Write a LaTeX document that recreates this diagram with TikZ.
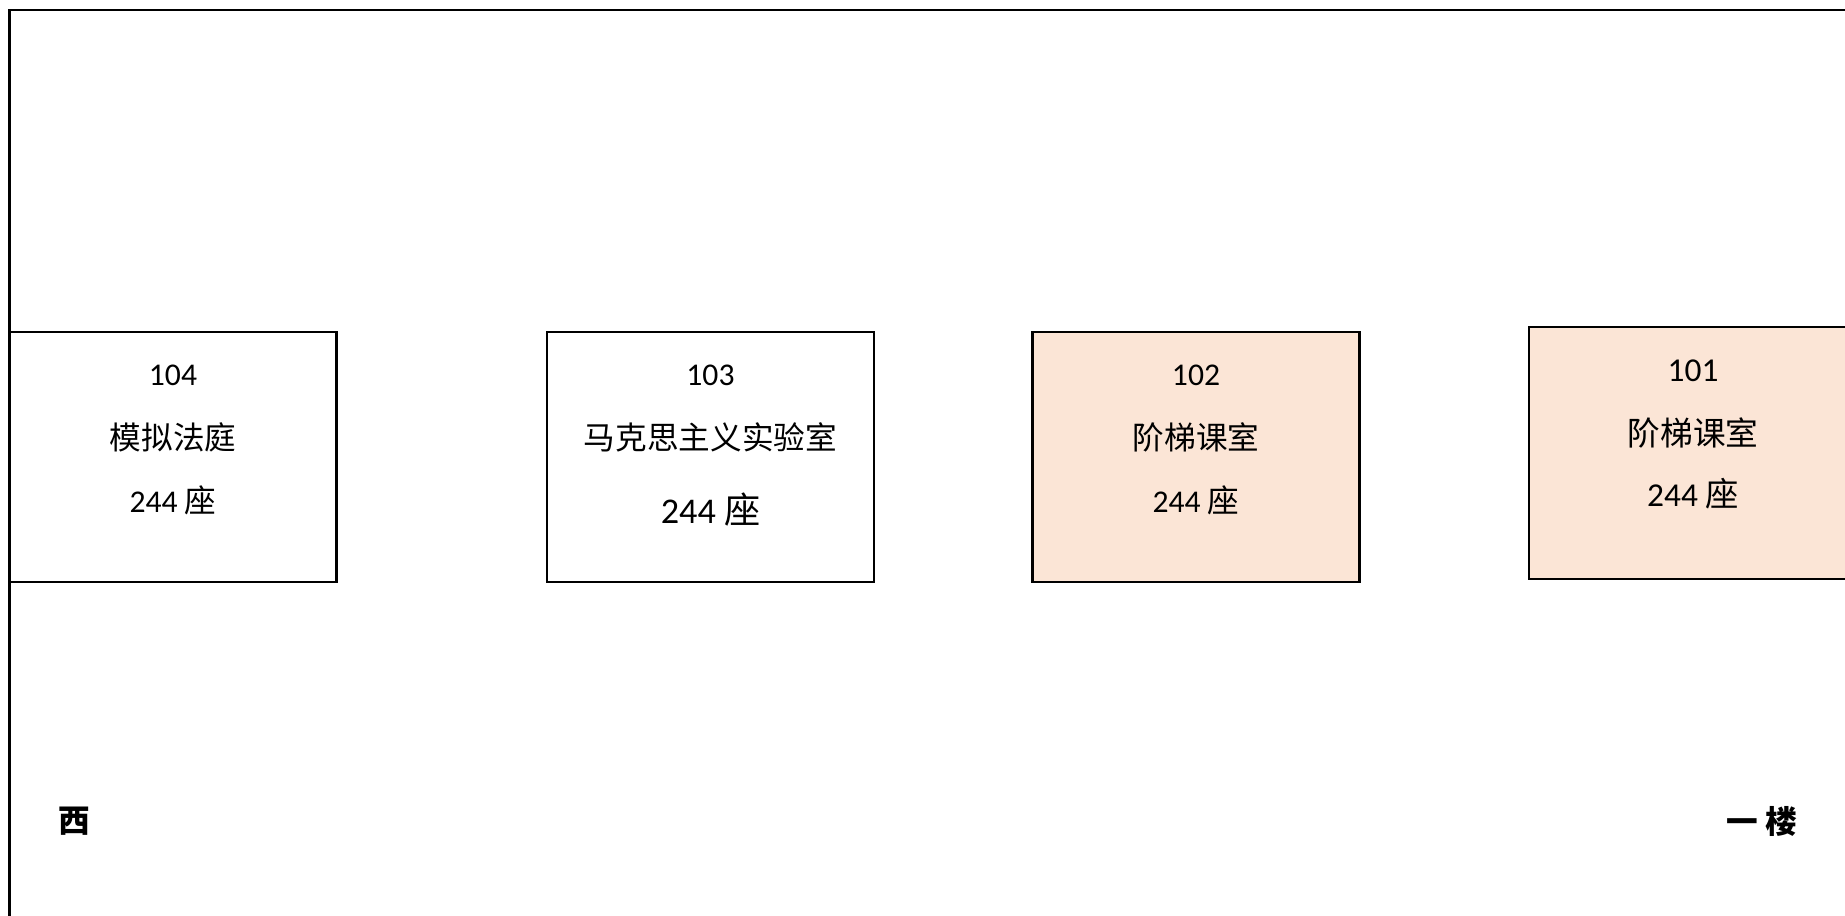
\documentclass[tikz,border=0pt]{standalone}
\usepackage{fontspec}
\setmainfont{Carlito}
\newfontfamily\cjk{Noto Sans CJK SC}
\usetikzlibrary{positioning}

\newcommand{\seats}{244 {\cjk 座}}

\definecolor{hallpeach}{HTML}{FBE5D6}
\tikzset{
  room/.style={draw=black,line width=0.6pt,minimum width=3.27cm,minimum height=2.505cm,inner sep=0pt},
  hall/.style={room,fill=hallpeach},
  label/.style={inner sep=0pt,font=\fontsize{9}{11}\selectfont}
}

\begin{document}
\begin{tikzpicture}
    \useasboundingbox (0,0) rectangle (18.45,9.15);
    \fill[white] (0,0) rectangle (18.45,9.15);
    % floor outline, runs off the page on the right and at the bottom
    \draw[line width=0.6pt] (19,9.05) -- (0.095,9.05) -- (0.095,-1);

    \node[room] (R104) at (1.73,4.58) {};
    \node[room] (R103) at (7.105,4.58) {};
    \node[hall] (R102) at (11.96,4.58) {};
    \node[hall,minimum height=2.52cm] (R101) at (16.925,4.62) {};

    \node[label] (n104) at (1.73,5.40) {104};
    \node[label] (t104) at (1.73,4.78) {\cjk 模拟法庭};
    \node[label] (s104) at (1.73,4.15) {\seats};

    \node[label] (n103) at (7.105,5.40) {103};
    \node[label] (t103) at (7.105,4.78) {\cjk 马克思主义实验室};
    \node[label,font=\fontsize{10.3}{12}\selectfont] (s103) at (7.105,4.05) {\seats};

    \node[label] (n102) at (11.96,5.40) {102};
    \node[label] (t102) at (11.96,4.78) {\cjk 阶梯课室};
    \node[label] (s102) at (11.96,4.15) {\seats};

    \node[label,font=\fontsize{9.5}{11}\selectfont] (n101) at (16.93,5.44) {101};
    \node[label,font=\fontsize{9.3}{11}\selectfont] (t101) at (16.93,4.82) {\cjk 阶梯课室};
    \node[label,font=\fontsize{9.5}{11}\selectfont] (s101) at (16.93,4.21) {\seats};

    \node[label] (west) at (0.74,0.94) {\cjk\bfseries 西};
    \node[label] (floor) at (17.62,0.94) {\cjk\bfseries 一 楼};
\end{tikzpicture}
\end{document}
